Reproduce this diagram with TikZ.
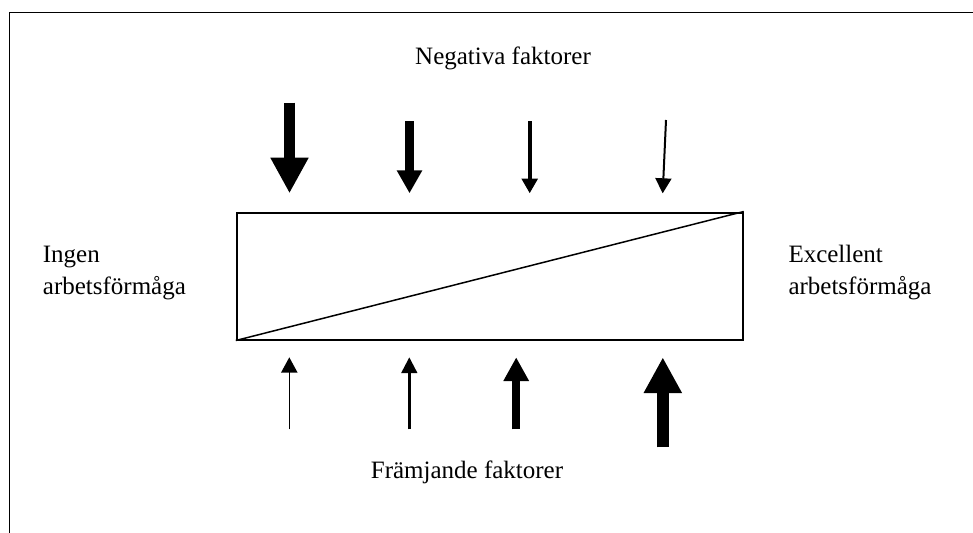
\documentclass[tikz,border=0pt]{standalone}
\usepackage{fontspec}
\setmainfont{Liberation Serif}
\usetikzlibrary{arrows.meta}
\tikzset{
  lbl/.style={inner sep=0pt, font=\fontsize{25}{32}\selectfont},
  blockarrow/.style n args={3}{line width=#1, -{Triangle[width=#2, length=#3]}},
}
\begin{document}
\begin{tikzpicture}[x=1pt, y=-1pt]
\useasboundingbox (0,0) rectangle (973,532);
\clip (0,0) rectangle (973,532);
% outer frame
\coordinate (fbl) at (9.5,545);
\coordinate (ftl) at (9.5,12.5);
\coordinate (ftr) at (990,12.5);
\draw[line width=1.8pt, line join=miter] (fbl) -- (ftl) -- (ftr);
% box
\node[draw, line width=2pt, minimum width=506pt, minimum height=127pt, inner sep=0pt, anchor=north west] (box) at (235.8,211.5) {};
\draw[line width=1.5pt] (box.south west) -- (box.north east);
% labels
\node[lbl, anchor=base] (neg) at (503,64.3) {Negativa faktorer};
\node[lbl, anchor=base] (fram) at (467,478.3) {Främjande faktorer};
\node[lbl, anchor=base west] (ingen1) at (42.7,262.5) {Ingen};
\node[lbl, anchor=base west] (ingen2) at (42.7,294.3) {arbetsförmåga};
\node[lbl, anchor=base west] (exc1) at (788.3,262.5) {Excellent};
\node[lbl, anchor=base west] (exc2) at (788.3,294.3) {arbetsförmåga};
% top arrows
\coordinate (t1s) at (289.5,102.7); \coordinate (t1e) at (289.5,193.3);
\coordinate (t2s) at (409.5,121);   \coordinate (t2e) at (409.5,193.3);
\coordinate (t3s) at (529.7,121);   \coordinate (t3e) at (529.7,193.3);
\coordinate (t4s) at (666,120);     \coordinate (t4e) at (662.7,193.3);
\draw[blockarrow={11.7pt}{35.6pt}{35.6pt}] (t1s) -- (t1e);
\draw[blockarrow={8.3pt}{24pt}{23pt}] (t2s) -- (t2e);
\draw[blockarrow={4pt}{15.6pt}{14.7pt}] (t3s) -- (t3e);
\draw[blockarrow={2pt}{16pt}{15pt}] (t4s) -- (t4e);
% bottom arrows
\coordinate (b1s) at (289.3,429.3); \coordinate (b1e) at (289.3,357.3);
\coordinate (b2s) at (409.3,429.3); \coordinate (b2e) at (409.3,357.3);
\coordinate (b3s) at (516.2,429.3); \coordinate (b3e) at (516.2,357.3);
\coordinate (b4s) at (662.8,447.3); \coordinate (b4e) at (662.8,357.3);
\draw[blockarrow={1.5pt}{16.3pt}{15.4pt}] (b1s) -- (b1e);
\draw[blockarrow={2.5pt}{15.6pt}{15.7pt}] (b2s) -- (b2e);
\draw[blockarrow={7.7pt}{24pt}{23.7pt}] (b3s) -- (b3e);
\draw[blockarrow={12.3pt}{35.7pt}{35.7pt}] (b4s) -- (b4e);
\end{tikzpicture}
\end{document}
